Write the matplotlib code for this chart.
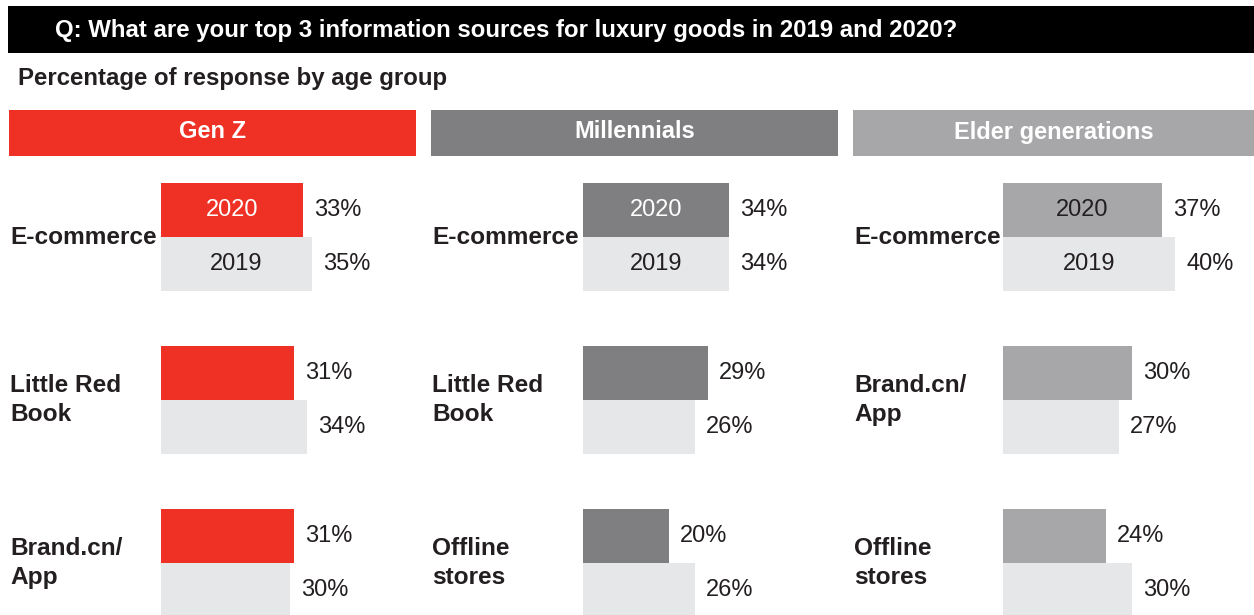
import matplotlib.pyplot as plt
from matplotlib.patches import Rectangle

plt.rcParams['font.family'] = ['Liberation Sans', 'DejaVu Sans']

# Data
title = "Q: What are your top 3 information sources for luxury goods in 2019 and 2020?"
subtitle = "Percentage of response by age group"
groups = ["Gen Z", "Millennials", "Elder generations"]
years = ["2020", "2019"]

genz_cats = ["E-commerce", "Little Red\nBook", "Brand.cn/\nApp"]
genz_2020 = [33, 31, 31]
genz_2019 = [35, 34, 30]

mill_cats = ["E-commerce", "Little Red\nBook", "Offline\nstores"]
mill_2020 = [34, 29, 20]
mill_2019 = [34, 26, 26]

elder_cats = ["E-commerce", "Brand.cn/\nApp", "Offline\nstores"]
elder_2020 = [37, 30, 24]
elder_2019 = [40, 27, 30]

# Styles
W, H = 1254, 615
dark = "#231F20"
light = "#E6E7E8"
colors = ["#EE3124", "#7F7F81", "#A7A7AA"]
year_txt = ["white", "white", dark]
hdr_x = [(9, 416), (431, 838), (853, 1254)]
bar_x0 = [161, 583, 1003]
lab_x = [10, 432, 854]
px_per_pct = 4.3

fig = plt.figure(figsize=(W/100, H/100), dpi=100)

# background axes in pixel units for header boxes and text
bg = fig.add_axes([0, 0, 1, 1])
bg.set_xlim(0, W)
bg.set_ylim(H, 0)
bg.axis('off')

bg.add_patch(Rectangle((8, 6), W-8, 47, color="black", lw=0))
bg.text(55, 30, title, color="white", fontsize=17.3, fontweight="bold", va="center", ha="left")
bg.text(18, 79, subtitle, color=dark, fontsize=17.3, fontweight="bold", va="center", ha="left")

for i, g in enumerate(groups):
    x0, x1 = hdr_x[i]
    bg.add_patch(Rectangle((x0, 110), x1-x0, 46, color=colors[i], lw=0))
    bg.text((x0+x1)/2, 132, g, color="white", fontsize=17, fontweight="bold", ha="center", va="center")

panels = [(genz_cats, genz_2020, genz_2019),
          (mill_cats, mill_2020, mill_2019),
          (elder_cats, elder_2020, elder_2019)]

top_px = 170
unit = 163.0
half = 54/163.0

for i, (cats, v20, v19) in enumerate(panels):
    width_px = 240
    ax = fig.add_axes([bar_x0[i]/W, 0, width_px/W, (H-top_px)/H])
    ax.set_xlim(0, width_px/px_per_pct)
    ax.set_ylim(2 + (615-563)/unit, -(237-top_px)/unit)
    ax.axis('off')
    pos = list(range(len(cats)))
    b20 = ax.barh([p - half/2 for p in pos], v20, height=half, color=colors[i], lw=0)
    b19 = ax.barh([p + half/2 for p in pos], v19, height=half, color=light, lw=0)
    for bars, vals in [(b20, v20), (b19, v19)]:
        for bar, v in zip(bars, vals):
            ax.annotate(f"{v}%", (bar.get_width(), bar.get_y() + bar.get_height()/2),
                        xytext=(8, 0), textcoords="offset points", ha="left", va="center",
                        fontsize=17, color=dark, annotation_clip=False)
    # year labels inside first pair
    ax.text(v20[0]/2, -half/2, years[0], ha="center", va="center", fontsize=17, color=year_txt[i])
    ax.text(v19[0]/2, half/2, years[1], ha="center", va="center", fontsize=17, color=dark)
    # category labels in pixel space
    for j, c in enumerate(cats):
        bg.text(lab_x[i], 237 + j*unit, c, ha="left", va="center", fontsize=17.6,
                fontweight="bold", color=dark, linespacing=1.3)

fig.savefig("out.png", dpi=100)
